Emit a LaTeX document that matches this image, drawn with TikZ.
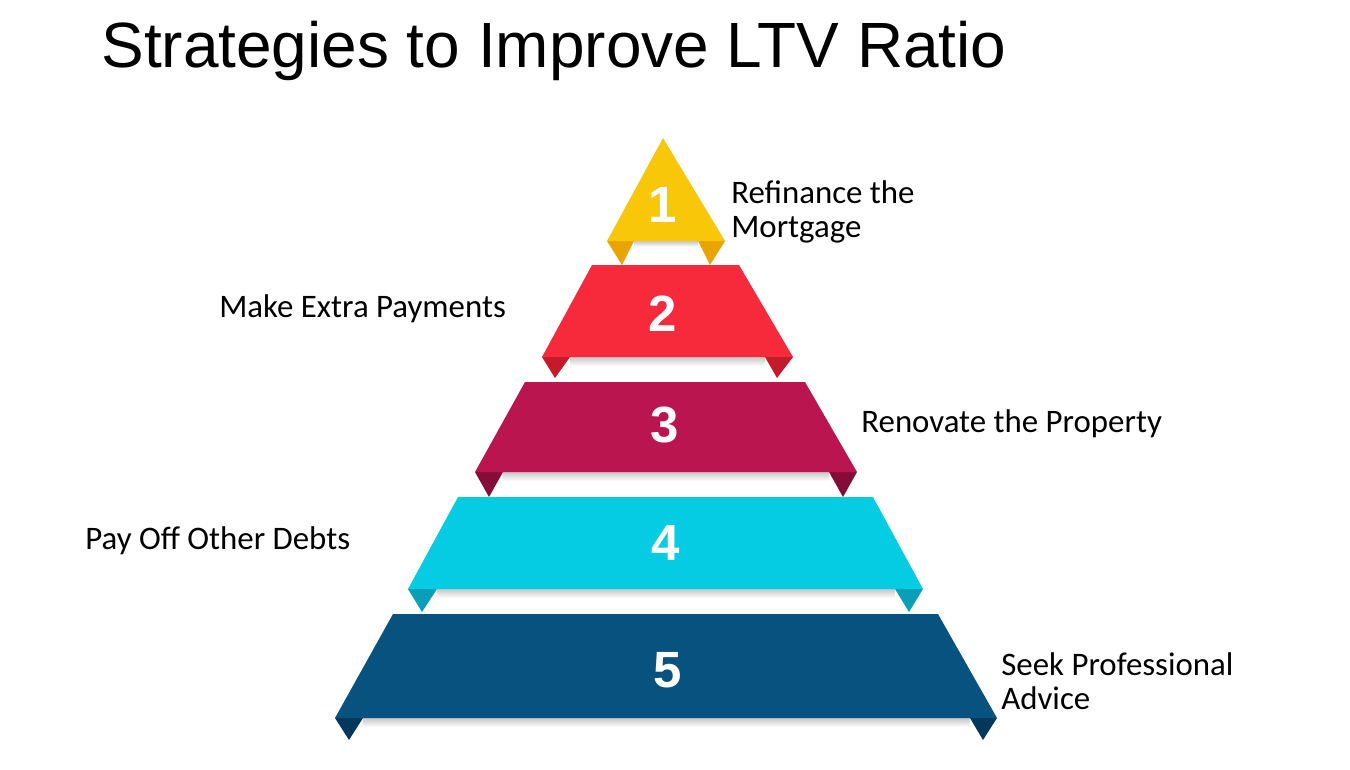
\documentclass[tikz,border=0pt]{standalone}
\usepackage{fontspec}
\setmainfont{Carlito}
\newfontfamily\headfont{Liberation Sans}
\usetikzlibrary{positioning}
\definecolor{gold}{HTML}{F8C70A}
\definecolor{golddark}{HTML}{E9A404}
\definecolor{coral}{HTML}{F72A3B}
\definecolor{coraldark}{HTML}{C21B2B}
\definecolor{berry}{HTML}{BA154E}
\definecolor{berrydark}{HTML}{860C38}
\definecolor{aqua}{HTML}{05CBE3}
\definecolor{aquadark}{HTML}{0A9EB8}
\definecolor{navy}{HTML}{08527F}
\definecolor{navydark}{HTML}{04385A}

\begin{document}
\begin{tikzpicture}[
    x=0.02cm, y=-0.02cm,
    tier/.style={draw=none},
    fold/.style={draw=none},
    shadow/.style={top color=black!22, bottom color=white, draw=none},
    num/.style={text=white, font=\headfont\bfseries\fontsize{29}{29}\selectfont, inner sep=0pt},
    lbl/.style={anchor=base west, align=left, inner sep=0pt, font=\fontsize{18.7}{19.3}\selectfont}
]
    \useasboundingbox[fill=white] (0,0) rectangle (1350,769);

    % title
    \node[anchor=base west, inner sep=0pt, font=\headfont\fontsize{36.4}{36.4}\selectfont] (title) at (101,67) {Strategies to Improve LTV Ratio};

    % soft shadows under the bands
    \shade[shadow] (634,241) rectangle (698,247);
    \shade[shadow] (570,357) rectangle (765,366);
    \shade[shadow] (503,472) rectangle (829,481);
    \shade[shadow] (437,589) rectangle (895,598);
    \shade[shadow] (363,718) rectangle (970,727);

    % tier 1
    \fill[golddark, fold] (607,241) -- (634,241) -- (622,265) -- cycle;
    \fill[golddark, fold] (698,241) -- (725,241) -- (710,265) -- cycle;
    \fill[gold, tier] (663,138) -- (725,241) -- (607,241) -- cycle;

    % tier 2
    \fill[coraldark, fold] (542,357) -- (570,357) -- (555,378) -- cycle;
    \fill[coraldark, fold] (765,357) -- (793,357) -- (777,378) -- cycle;
    \fill[coral, tier] (592,265) -- (739,265) -- (793,357) -- (542,357) -- cycle;

    % tier 3
    \fill[berrydark, fold] (475,472) -- (503,472) -- (489,497) -- cycle;
    \fill[berrydark, fold] (829,472) -- (857,472) -- (843,497) -- cycle;
    \fill[berry, tier] (525,382) -- (805,382) -- (857,472) -- (475,472) -- cycle;

    % tier 4
    \fill[aquadark, fold] (408,589) -- (437,589) -- (422,612) -- cycle;
    \fill[aquadark, fold] (895,589) -- (923,589) -- (909,612) -- cycle;
    \fill[aqua, tier] (458,497) -- (873,497) -- (923,589) -- (408,589) -- cycle;

    % tier 5
    \fill[navydark, fold] (335,718) -- (363,718) -- (349,740) -- cycle;
    \fill[navydark, fold] (970,718) -- (997,718) -- (983,740) -- cycle;
    \fill[navy, tier] (393,614) -- (938,614) -- (997,718) -- (335,718) -- cycle;

    % numbers
    \node[num] (n1) at (663,205) {1};
    \node[num] (n2) at (663,314) {2};
    \node[num] (n3) at (665,425) {3};
    \node[num] (n4) at (666,543) {4};
    \node[num] (n5) at (668,670) {5};

    % labels (base = last line)
    \node[lbl] (l1) at (731,237) {Refinance the\\Mortgage};
    \node[lbl] (l2) at (219,317) {Make Extra Payments};
    \node[lbl] (l3) at (861,432) {Renovate the Property};
    \node[lbl] (l4) at (85,549) {Pay Off Other Debts};
    \node[lbl] (l5) at (1001,709) {Seek Professional\\Advice};
\end{tikzpicture}
\end{document}
